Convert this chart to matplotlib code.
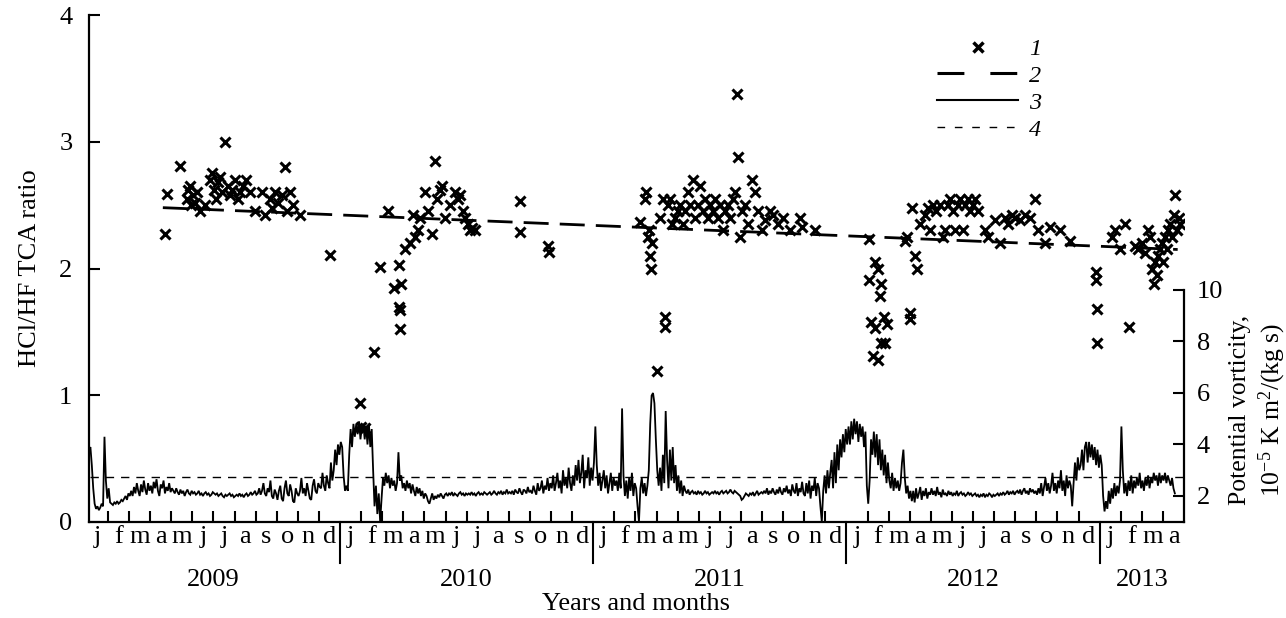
import matplotlib
matplotlib.use('Agg')
import matplotlib.pyplot as plt
import matplotlib.transforms as mtransforms
from matplotlib.lines import Line2D

plt.rcParams['font.family'] = ['Liberation Serif', 'DejaVu Serif']
plt.rcParams['mathtext.fontset'] = 'custom'
plt.rcParams['mathtext.rm'] = 'Liberation Serif'
plt.rcParams['mathtext.it'] = 'Liberation Serif:italic'

# ---------------- data (x = months since 1 Jan 2009) ----------------
month_letters = ['j', 'f', 'm', 'a', 'm', 'j', 'j', 'a', 's', 'o', 'n', 'd']
years = ['2009', '2010', '2011', '2012', '2013']
year_start = [0, 12, 24, 36, 48]
year_end = [12, 24, 36, 48, 52]

# 1: HCl/HF TCA ratio measurements
cross_month = [3.70, 3.79, 4.41, 4.74, 4.79, 4.88, 4.93, 5.02, 5.12, 5.21, 5.36, 5.59, 5.83, 5.92,
               6.02, 6.11, 6.21, 6.30, 6.40, 6.54, 6.68, 6.78, 6.87, 7.01, 7.16, 7.25, 7.39, 7.54,
               7.73, 7.96, 8.29, 8.44, 8.67, 8.77, 8.91, 9.05, 9.24, 9.38, 9.48, 9.62, 9.76, 10.09,
               11.52,
               12.94, 12.99, 13.18, 13.60, 13.89, 14.27, 14.55, 14.88, 14.79, 14.83, 14.83, 14.80,
               15.07, 15.31, 15.45, 15.55, 15.69, 15.78, 16.02, 16.16, 16.35, 16.49, 16.59, 16.73,
               16.82, 16.97, 17.20, 17.44, 17.58, 17.68, 17.82, 17.91, 18.06, 18.15, 18.25, 18.39,
               20.52, 20.52, 21.85, 21.90,
               26.20, 26.45, 26.50, 26.60, 26.62, 26.70, 26.72, 26.80, 27.00, 27.40, 27.40,
               27.16, 27.30, 27.53, 27.63, 27.73, 27.87, 28.01, 28.10, 28.25, 28.34, 28.48, 28.58,
               28.72, 28.82, 28.96, 29.05, 29.19, 29.29, 29.43, 29.53, 29.67, 29.76, 29.91, 30.00,
               30.14, 30.24, 30.38, 30.47, 30.62, 30.71, 30.81, 30.85, 30.95, 31.04, 31.18, 31.33,
               31.52, 31.66, 31.80, 31.99, 32.13, 32.37, 32.51, 32.75, 32.99, 33.32, 33.79, 33.89,
               34.50,
               37.06, 37.16, 37.25, 37.35, 37.49, 37.58, 37.63, 37.77, 37.82, 37.91, 37.63, 37.06,
               37.35, 37.49, 39.00, 39.00, 38.77, 38.86, 39.10, 39.24, 39.34,
               39.48, 39.72, 39.86, 39.95, 40.09, 40.24, 40.43, 40.57, 40.66, 40.81, 40.90, 41.04,
               41.14, 41.28, 41.37, 41.52, 41.61, 41.75, 41.85, 41.99, 42.09, 42.23, 42.56, 42.70,
               43.03, 43.27, 43.51, 43.65, 43.84, 43.98, 44.22, 44.45, 44.69, 44.93, 45.07, 45.40,
               45.64, 46.11, 46.59,
               47.82, 47.87, 47.87, 47.82, 48.58, 48.72, 48.96, 49.19, 49.38, 49.67, 49.81, 50.00,
               50.14, 50.28, 50.38, 50.47, 50.57, 50.62, 50.71, 50.76, 50.85, 50.95, 51.00, 51.09,
               51.18, 51.23, 51.33, 51.42, 51.52, 51.56, 51.66, 51.75, 51.80]
cross_ratio = [2.27, 2.59, 2.81, 2.55, 2.62, 2.65, 2.50, 2.58, 2.52, 2.60, 2.45, 2.50, 2.70, 2.75,
               2.62, 2.55, 2.68, 2.72, 2.60, 3.00, 2.65, 2.58, 2.62, 2.70, 2.55, 2.60, 2.65, 2.70,
               2.60, 2.45, 2.60, 2.42, 2.55, 2.48, 2.60, 2.52, 2.58, 2.80, 2.45, 2.60, 2.50, 2.42,
               2.11,
               0.94, 0.75, 0.74, 1.34, 2.01, 2.45, 1.85, 1.88, 1.70, 1.67, 1.52, 2.03,
               2.15, 2.20, 2.42, 2.25, 2.30, 2.40, 2.60, 2.45, 2.27, 2.85, 2.55, 2.62,
               2.65, 2.40, 2.50, 2.60, 2.55, 2.58, 2.45, 2.40, 2.35, 2.30, 2.32, 2.30,
               2.53, 2.29, 2.18, 2.13,
               2.37, 2.55, 2.60, 2.25, 2.30, 2.10, 2.00, 2.20, 1.19, 1.62, 1.54,
               2.40, 2.55, 2.50, 2.55, 2.35, 2.40, 2.45, 2.50, 2.35, 2.45, 2.60, 2.50,
               2.70, 2.40, 2.50, 2.65, 2.45, 2.55, 2.40, 2.50, 2.45, 2.55, 2.40, 2.50,
               2.30, 2.45, 2.50, 2.40, 2.55, 2.60, 3.38, 2.88, 2.25, 2.45, 2.50, 2.35,
               2.70, 2.60, 2.45, 2.30, 2.38, 2.45, 2.42, 2.35, 2.40, 2.30, 2.40, 2.33,
               2.30,
               1.91, 1.58, 1.31, 1.53, 1.28, 1.78, 1.88, 1.62, 1.41, 1.56, 1.41, 2.23,
               2.05, 2.00, 1.65, 1.60, 2.22, 2.25, 2.48, 2.10, 2.00,
               2.35, 2.42, 2.48, 2.30, 2.50, 2.45, 2.50, 2.25, 2.30, 2.50, 2.55, 2.45,
               2.30, 2.50, 2.55, 2.30, 2.50, 2.55, 2.45, 2.50, 2.55, 2.45, 2.30, 2.25,
               2.38, 2.20, 2.40, 2.35, 2.42, 2.40, 2.38, 2.42, 2.40, 2.55, 2.30, 2.20,
               2.33, 2.30, 2.22,
               1.91, 1.68, 1.41, 1.97, 2.25, 2.30, 2.15, 2.35, 1.54, 2.18, 2.15, 2.20,
               2.12, 2.30, 2.25, 2.00, 1.88, 2.05, 1.95, 2.10, 2.15, 2.20, 2.05, 2.25,
               2.15, 2.30, 2.35, 2.25, 2.42, 2.58, 2.30, 2.40, 2.35]

# 2: linear trend of the ratio
trend_month = [3.6, 51.7]
trend_ratio = [2.48, 2.15]

# 3: potential vorticity (10^-5 K m^2 / (kg s)), one value every 1/15 month from 0.1
pv_first_month = 0.1
pv_per_month = 15
pv_value = [
    3.8, 3.9, 3.2, 2.3, 1.7, 1.5, 1.6, 1.45, 1.55, 1.7, 1.6, 4.3, 2.6, 1.9, 2.3,        # Jan 09
    1.75, 1.7, 1.65, 1.75, 1.7, 1.8, 1.7, 1.75, 1.85, 1.8, 1.9, 2.0, 1.85, 2.1, 2.0,    # Feb
    2.2, 2.0, 2.35, 2.1, 2.5, 2.2, 2.0, 2.45, 2.15, 2.6, 2.25, 2.05, 2.5, 2.2, 2.4,     # Mar
    2.1, 2.55, 2.3, 2.65, 2.2, 2.0, 2.45, 2.3, 2.6, 2.1, 2.35, 2.2, 2.5, 2.15, 2.3,     # Apr
    2.2, 2.1, 2.3, 2.15, 2.05, 2.25, 2.1, 2.2, 2.0, 2.15, 2.25, 2.1, 2.05, 2.2, 2.1,    # May
    2.15, 2.05, 2.1, 2.2, 2.05, 2.1, 2.0, 2.1, 2.15, 2.05, 2.1, 2.0, 2.05, 2.15, 2.1,   # Jun
    2.05, 2.1, 2.0, 2.05, 2.1, 2.0, 1.95, 2.05, 2.0, 2.05, 2.1, 2.0, 2.05, 1.95, 2.0,   # Jul
    2.05, 2.0, 2.1, 2.0, 2.05, 1.95, 2.05, 2.1, 2.0, 2.05, 2.15, 2.05, 2.1, 2.2, 2.05,  # Aug
    2.1, 2.3, 2.05, 2.2, 2.5, 2.1, 2.0, 2.3, 2.15, 2.6, 2.0, 1.9, 2.25, 2.1, 1.85,      # Sep
    2.2, 2.4, 1.9, 1.8, 2.3, 2.6, 2.1, 2.0, 2.45, 2.2, 1.8, 1.75, 2.3, 2.1, 2.0,        # Oct
    2.2, 2.7, 2.1, 2.3, 2.0, 2.5, 2.2, 1.9, 1.85, 2.4, 2.65, 2.2, 2.1, 2.5, 2.35,       # Nov
    2.3, 2.9, 2.4, 2.2, 2.8, 2.5, 2.3, 3.3, 2.6, 3.0, 3.8, 3.2, 4.0, 3.6, 4.1,          # Dec
    3.9, 2.8, 2.2, 2.4, 2.2, 3.6, 4.6, 3.9, 4.8, 4.3, 4.8, 4.4, 4.9, 4.2, 4.7,          # Jan 10
    4.8, 4.2, 4.7, 4.0, 4.8, 3.9, 4.6, 3.0, 1.6, 2.4, 1.3, 2.1, 1.0, 1.9, 2.7,          # Feb
    2.4, 2.9, 2.5, 2.8, 2.3, 2.7, 2.4, 2.6, 2.2, 2.5, 3.7, 2.6, 2.8, 2.3, 2.5,          # Mar
    2.2, 2.6, 2.3, 2.5, 2.1, 2.45, 2.2, 2.0, 2.35, 2.1, 2.3, 2.0, 2.2, 1.9, 2.1,        # Apr
    2.0, 1.8, 1.7, 1.9, 2.1, 1.85, 2.0, 1.9, 2.05, 1.95, 2.1, 2.0, 1.9, 2.05, 2.1,      # May
    2.0, 2.1, 2.05, 2.15, 2.0, 2.1, 2.05, 2.0, 2.1, 2.15, 2.05, 2.1, 2.0, 2.1, 2.05,    # Jun
    2.1, 2.05, 2.15, 2.05, 2.1, 2.0, 2.1, 2.15, 2.05, 2.1, 2.05, 2.15, 2.1, 2.05, 2.1,  # Jul
    2.15, 2.05, 2.1, 2.2, 2.1, 2.05, 2.15, 2.1, 2.2, 2.05, 2.15, 2.1, 2.25, 2.1, 2.15,  # Aug
    2.1, 2.2, 2.05, 2.25, 2.15, 2.1, 2.3, 2.15, 2.05, 2.25, 2.2, 2.1, 2.35, 2.15, 2.2,  # Sep
    2.1, 2.4, 2.2, 2.05, 2.5, 2.2, 2.3, 2.6, 2.1, 2.4, 2.25, 2.7, 2.2, 2.5, 2.3,        # Oct
    2.8, 2.2, 2.5, 2.9, 2.3, 2.6, 2.1, 3.0, 2.4, 2.7, 2.3, 3.1, 2.5, 2.2, 2.8,          # Nov
    2.4, 3.2, 2.6, 3.4, 2.5, 2.9, 3.6, 2.3, 3.0, 2.7, 3.5, 2.4, 3.1, 2.6, 3.3,          # Dec
    4.7, 3.2, 2.4, 2.9, 2.2, 2.6, 3.0, 2.3, 2.8, 2.1, 2.5, 2.9, 2.2, 2.7, 2.4,          # Jan 11
    2.6, 2.2, 2.9, 2.3, 5.4, 2.8, 2.0, 2.6, 1.9, 2.7, 2.2, 2.9, 2.0, 2.5, 2.3,          # Feb
    1.6, 1.0, 2.3, 2.7, 2.1, 2.5, 2.0, 2.4, 3.0, 4.8, 5.9, 6.0, 5.6, 4.2, 3.0,          # Mar
    2.4, 3.1, 2.2, 3.6, 2.5, 5.3, 3.4, 2.3, 3.8, 2.6, 3.9, 2.5, 3.2, 2.2, 2.8,          # Apr
    2.1, 2.6, 2.0, 2.4, 2.2, 2.1, 2.25, 2.05, 2.15, 2.2, 2.1, 2.15, 2.05, 2.2, 2.1,     # May
    2.15, 2.05, 2.1, 2.2, 2.1, 2.15, 2.05, 2.1, 2.15, 2.1, 2.2, 2.1, 2.15, 2.05, 2.15,  # Jun
    2.2, 2.1, 2.15, 2.2, 2.1, 2.15, 2.25, 2.15, 2.1, 2.2, 2.15, 2.1, 2.05, 2.0, 1.85,   # Jul
    1.9, 2.0, 2.1, 2.05, 2.0, 2.1, 2.05, 2.15, 2.0, 2.1, 2.2, 2.05, 2.1, 2.15, 2.1,     # Aug
    2.2, 2.1, 2.3, 2.05, 2.2, 2.1, 2.3, 2.15, 2.05, 2.25, 2.1, 2.35, 2.15, 2.05, 2.3,   # Sep
    2.15, 2.4, 2.1, 2.25, 2.0, 2.45, 2.2, 2.1, 2.5, 2.0, 2.3, 2.15, 2.55, 2.1, 2.0,     # Oct
    2.5, 2.1, 2.6, 1.9, 2.4, 2.2, 2.7, 2.0, 2.5, 2.3, 1.6, 1.0, 2.2, 2.8, 2.1,          # Nov
    3.0, 2.3, 2.9, 3.4, 2.3, 3.7, 2.5, 4.0, 3.0, 4.2, 3.5, 4.4, 3.7, 4.6, 4.0,          # Dec
    4.7, 4.0, 4.9, 4.2, 5.0, 4.4, 4.9, 4.1, 4.8, 4.3, 4.7, 3.9, 4.5, 2.4, 1.7,          # Jan 12
    2.6, 4.2, 3.6, 4.5, 3.5, 4.4, 3.2, 4.2, 3.0, 3.8, 2.8, 3.6, 2.5, 3.3, 2.6,          # Feb
    2.3, 2.9, 2.2, 2.7, 2.3, 2.6, 2.2, 2.5, 3.3, 3.8, 2.7, 2.1, 2.4, 1.9, 2.2,          # Mar
    1.8, 2.2, 1.75, 2.3, 1.9, 2.1, 2.35, 1.85, 2.2, 2.0, 2.3, 1.9, 2.15, 2.05, 2.3,     # Apr
    2.05, 2.2, 2.0, 2.35, 2.05, 2.15, 1.95, 2.25, 2.05, 2.1, 2.0, 2.2, 2.05, 2.15, 2.0, # May
    2.1, 2.05, 2.2, 2.0, 2.1, 2.15, 2.05, 2.1, 2.0, 2.05, 2.15, 2.05, 2.1, 2.0, 2.05,   # Jun
    2.1, 2.0, 2.05, 1.95, 2.05, 2.0, 2.1, 1.95, 2.05, 2.0, 2.1, 2.05, 1.95, 2.05, 2.0,  # Jul
    2.05, 2.1, 2.0, 2.1, 2.05, 2.15, 2.05, 2.1, 2.2, 2.05, 2.15, 2.1, 2.2, 2.05, 2.15,  # Aug
    2.2, 2.1, 2.25, 2.05, 2.2, 2.3, 2.1, 2.2, 2.05, 2.3, 2.15, 2.25, 2.1, 2.2, 2.05,    # Sep
    2.3, 2.1, 2.5, 2.0, 2.35, 2.7, 2.2, 2.5, 2.1, 2.4, 2.9, 2.2, 2.5, 2.1, 2.6,         # Oct
    2.3, 3.0, 2.2, 2.6, 2.0, 2.8, 2.3, 2.6, 2.4, 1.6, 2.5, 3.3, 2.6, 3.5, 3.0,          # Nov
    3.2, 3.8, 3.0, 3.9, 4.1, 3.3, 4.1, 3.5, 4.0, 3.4, 3.9, 3.2, 3.8, 3.1, 3.6,          # Dec
    3.2, 2.0, 1.4, 1.8, 1.5, 2.2, 1.7, 2.3, 1.9, 2.5, 2.0, 2.4, 2.1, 2.6, 4.7,          # Jan 13
    3.0, 2.1, 2.5, 2.0, 2.6, 2.2, 2.8, 2.1, 2.6, 2.3, 2.7, 2.4, 2.9, 2.3, 2.6,          # Feb
    2.2, 2.7, 2.4, 2.8, 2.3, 2.7, 2.5, 2.9, 2.6, 2.8, 2.4, 2.9, 2.5, 2.8, 2.6,          # Mar
    2.9, 2.5, 2.8, 2.6, 2.4, 2.7, 2.3, 2.1]                                            # Apr
pv_month = [pv_first_month + i / pv_per_month for i in range(len(pv_value))]

# 4: PV threshold
pv_threshold = 2.75

# ---------------- figure ----------------
FS = 19
W, H = 1286, 618
fig = plt.figure(figsize=(W / 100, H / 100), dpi=100)
ax_l, ax_r, ax_t, ax_b = 89, 1184, 15, 522
ax = fig.add_axes([ax_l / W, 1 - ax_b / H, (ax_r - ax_l) / W, (ax_b - ax_t) / H])
ax2 = ax.twinx()
ax.set_zorder(ax2.get_zorder() + 1)
ax.patch.set_visible(False)

xmin, xmax = 0.1, 52.0
ax.set_xlim(xmin, xmax)
ax.set_ylim(0, 4)
ax2.set_ylim(0.99, 0.99 + (ax_b - ax_t) / 25.75)

# PV line and threshold
ax2.plot(pv_month, pv_value, color='black', lw=1.3, solid_joinstyle='miter')
ax2.plot([xmin + 0.05, 52.0], [pv_threshold, pv_threshold], color='black', lw=1.0,
         ls=(0, (6, 5)))

# trend and crosses
ax.plot(trend_month, trend_ratio, color='black', lw=2.0, ls=(0, (9, 4)))
ax.plot(cross_month, cross_ratio, ls='none', marker='x', color='black', ms=7, mew=2.2)

# spines
for a in (ax, ax2):
    a.spines['top'].set_visible(False)
ax.spines['right'].set_visible(False)
ax2.spines['left'].set_visible(False)
ax2.spines['bottom'].set_visible(False)
for s in ('left', 'bottom'):
    ax.spines[s].set_linewidth(1.6)
ax2.spines['right'].set_linewidth(1.6)
ax2.spines['right'].set_bounds(0.99, 10)

# y ticks
ax.set_yticks([0, 1, 2, 3, 4])
ax.set_yticklabels(['0', '1', '2', '3', '4'])
ax.tick_params(axis='y', direction='in', length=8, width=1.5, labelsize=FS, pad=12)
ax2.set_yticks([2, 4, 6, 8, 10])
ax2.set_yticklabels(['2', '4', '6', '8', '10'])
ax2.tick_params(axis='y', direction='in', length=8, width=1.5, labelsize=FS, pad=9)

# x ticks: month boundaries (inward), letters at month centres
bounds = [m for m in range(1, 52) if m not in year_start]
ax.set_xticks(bounds)
ax.set_xticklabels([''] * len(bounds))
ax.tick_params(axis='x', which='major', direction='in', length=8, width=1.5)

trans = mtransforms.blended_transform_factory(ax.transData, ax.transAxes)
hpx = ax_b - ax_t
for m in range(52):
    ax.text(m + 0.5, -(543 - ax_b) / hpx, month_letters[m % 12], transform=trans,
            ha='center', va='baseline', fontsize=FS)
for ys in year_start[1:]:
    ax.plot([ys, ys], [0, -41 / hpx], transform=trans, clip_on=False,
            color='black', lw=1.5)
for yl, s, e in zip(years, year_start, year_end):
    ax.text((s + e) / 2, -(586 - ax_b) / hpx, yl, transform=trans,
            ha='center', va='baseline', fontsize=FS)

fig.text((ax_l + ax_r) / 2 / W, 1 - 610 / H, 'Years and months', ha='center', va='baseline',
         fontsize=FS)
fig.text(30 / W, 1 - 268 / H, 'HCl/HF TCA ratio', rotation=90, ha='center', va='center',
         fontsize=FS)
fig.text(1240 / W, 1 - 410 / H, 'Potential vorticity,', rotation=90, ha='center',
         va='center', fontsize=18.5)
fig.text(1272 / W, 1 - 410 / H, r'10$^{-5}$ K m$^{2}$/(kg s)', rotation=90, ha='center',
         va='center', fontsize=18.5)

# legend
h1 = Line2D([], [], ls='none', marker='x', color='black', ms=7, mew=2.5)
h2 = Line2D([], [], ls=(0, (8.8, 8.5)), lw=2.2, color='black')
h3 = Line2D([], [], ls='-', lw=1.5, color='black')
h4 = Line2D([], [], ls=(0, (5.5, 7)), lw=1.0, color='black')
fig.legend([h1, h2, h3, h4], ['1', '2', '3', '4'], loc='upper left',
           bbox_to_anchor=(937 / W, 1 - 38 / H), frameon=False, borderpad=0,
           borderaxespad=0, handlelength=3.35, handletextpad=0.45, labelspacing=0.2,
           prop={'style': 'italic', 'size': 17.5, 'family': 'Liberation Serif'})

fig.savefig('out.png', dpi=100)
